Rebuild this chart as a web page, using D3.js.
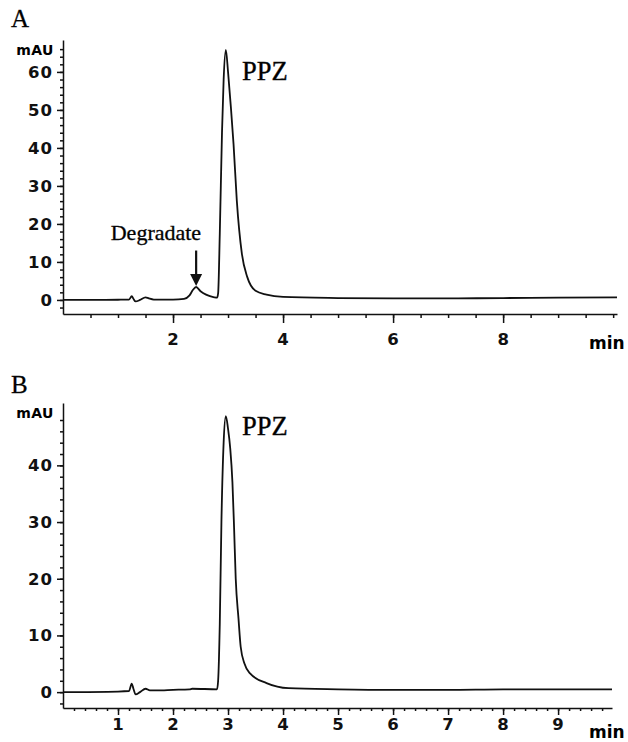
<!DOCTYPE html>
<html>
<head>
<meta charset="utf-8">
<script src="https://cdn.jsdelivr.net/npm/d3@7"></script>
<style>
  body { margin: 0; background: #fff; }
  svg { display: block; }
  .tick text { font-family: "DejaVu Sans", Verdana, sans-serif; font-weight: bold; font-size: 16.5px; letter-spacing: 1px; fill: #111; }
  .domain, .tick line { stroke: #111; stroke-width: 1.5; }
</style>
</head>
<body>
<svg id="chart" width="628" height="742"></svg>
<script>
// Panel A chromatogram (time in min, absorbance in mAU)
const timeA = [0, 0.5, 1.0, 1.2, 1.25, 1.28, 1.32, 1.4, 1.5, 1.56, 1.65, 2.0, 2.2, 2.3, 2.36, 2.42, 2.5, 2.6, 2.75, 2.8,
  2.82, 2.85, 2.89, 2.92, 2.96, 3.0, 3.05, 3.1, 3.16, 3.25, 3.35, 3.5, 3.7, 4.0, 5.0, 6.0, 7.0, 8.0, 9.0, 10.07];
const valueA = [0, 0, 0.05, 0.1, 1.0, 0.3, -0.4, 0, 0.7, 0.4, 0.1, 0.1, 0.3, 1.2, 2.6, 3.4, 2.3, 1.4, 0.7, 0.6,
  1.8, 17.5, 44, 58, 65.8, 60, 51, 41, 26, 12.3, 6, 2.4, 1.4, 0.8, 0.5, 0.4, 0.4, 0.5, 0.6, 0.7];

// Panel B chromatogram
const timeB = [0, 1.0, 1.2, 1.25, 1.28, 1.32, 1.4, 1.5, 1.58, 1.7, 2.0, 2.3, 2.35, 2.8,
  2.82, 2.85, 2.88, 2.92, 2.96, 3.0, 3.04, 3.08, 3.11, 3.14, 3.19, 3.23, 3.3, 3.4, 3.7, 4.1, 5.0, 6.0, 7.0, 8.0, 9.0, 9.98];
const valueB = [0, 0.1, 0.2, 1.5, 0.6, -0.4, 0, 0.6, 0.3, 0.3, 0.4, 0.5, 0.6, 0.5,
  2, 12, 30, 44, 48.7, 46.5, 43, 37, 29, 20, 13, 8, 5, 3.3, 1.6, 0.7, 0.5, 0.4, 0.4, 0.5, 0.5, 0.5];

const yMajorA = [0, 10, 20, 30, 40, 50, 60];
const yMajorB = [0, 10, 20, 30, 40];
const xMajorA = [2, 4, 6, 8];
const xMajorB = [1, 2, 3, 4, 5, 6, 7, 8, 9];

const degradeTime = 2.42;
const degradeValue = 3.4;

const svg = d3.select("#chart");
const serif = "'Liberation Serif', 'Times New Roman', serif";
const sans = "'DejaVu Sans', Verdana, sans-serif";

function drawPanel(opt) {
    const x = d3.scaleLinear().domain(opt.xDomain).range([63, opt.right]);
    const y = d3.scaleLinear().domain(opt.yDomain).range([opt.bottom, opt.top]);
    const g = svg.append("g");

    // minor y ticks
    g.append("g")
        .attr("transform", "translate(63,0)")
        .call(d3.axisLeft(y).tickValues(opt.yMinor).tickSize(3).tickSizeOuter(0).tickFormat(""));
    // major y ticks
    g.append("g")
        .attr("transform", "translate(63,0)")
        .call(d3.axisLeft(y).tickValues(opt.yMajor).tickSize(6).tickPadding(4).tickSizeOuter(0))
        .call(a => a.select(".domain").remove());

    // minor x ticks
    g.append("g")
        .attr("transform", `translate(0,${opt.bottom})`)
        .call(d3.axisBottom(x).tickValues(opt.xMinor).tickSize(opt.minorLen).tickSizeOuter(0).tickFormat(""));
    // major x ticks
    g.append("g")
        .attr("transform", `translate(0,${opt.bottom})`)
        .call(d3.axisBottom(x).tickValues(opt.xMajor).tickSize(opt.majorLen).tickPadding(opt.xPad).tickSizeOuter(0))
        .call(a => a.select(".domain").remove());

    g.append("text")
        .attr("x", 54).attr("y", y(opt.yDomain[1]) + 15)
        .attr("text-anchor", "end")
        .attr("font-family", sans)
        .attr("font-weight", "bold")
        .attr("font-size", 14)
        .attr("letter-spacing", 0.5)
        .text("mAU");

    g.append("text")
        .attr("x", 589).attr("y", opt.minY)
        .attr("font-family", sans)
        .attr("font-weight", "bold")
        .attr("font-size", 17)
        .text("min");

    const line = d3.line()
        .x((d, i) => x(opt.times[i]))
        .y(d => y(d))
        .curve(d3.curveMonotoneX);

    g.append("path")
        .datum(opt.values)
        .attr("fill", "none")
        .attr("stroke", "#111")
        .attr("stroke-width", 1.8)
        .attr("d", line);

    // panel letter
    svg.append("text")
        .attr("x", 11).attr("y", opt.letterY)
        .attr("font-family", serif)
        .attr("font-size", 25)
        .attr("stroke", "#111").attr("stroke-width", 0.3)
        .text(opt.letter);

    g.append("text")
        .attr("x", 242).attr("y", opt.ppzY)
        .attr("font-family", serif)
        .attr("font-size", 26.5)
        .attr("stroke", "#111").attr("stroke-width", 0.4)
        .text("PPZ");

    return { x, y, g };
}

const A = drawPanel({
    letter: "A", letterY: 27,
    times: timeA, values: valueA,
    xDomain: [0, 10.07], right: 617,
    yDomain: [-3.7, 68.4], top: 40, bottom: 314,
    yMajor: yMajorA, yMinor: d3.range(-2, 68, 2),
    xMajor: xMajorA, xMinor: d3.range(0.5, 10.01, 0.5),
    minorLen: 4, majorLen: 9, xPad: 10,
    minY: 349, ppzY: 80
});

const B = drawPanel({
    letter: "B", letterY: 393,
    times: timeB, values: valueB,
    xDomain: [0, 9.98], right: 612,
    yDomain: [-2.8, 51], top: 403, bottom: 708,
    yMajor: yMajorB, yMinor: d3.range(-2, 50, 2),
    xMajor: xMajorB, xMinor: d3.range(0.2, 9.9, 0.2),
    minorLen: 3, majorLen: 7, xPad: 3,
    minY: 738, ppzY: 435
});

// Degradate annotation in panel A
const ax = A.x(degradeTime);
const tipY = A.y(degradeValue) - 1;
A.g.append("line")
    .attr("x1", ax).attr("x2", ax)
    .attr("y1", A.y(13)).attr("y2", tipY - 10)
    .attr("stroke", "#111").attr("stroke-width", 2.2);
A.g.append("path")
    .attr("d", `M${ax - 6},${tipY - 12}L${ax + 6},${tipY - 12}L${ax},${tipY}Z`)
    .attr("fill", "#111");
A.g.append("text")
    .attr("x", ax + 5).attr("y", A.y(15.8))
    .attr("text-anchor", "end")
    .attr("font-family", serif)
    .attr("font-size", 22)
    .attr("stroke", "#111").attr("stroke-width", 0.35)
    .text("Degradate");
</script>
</body>
</html>
